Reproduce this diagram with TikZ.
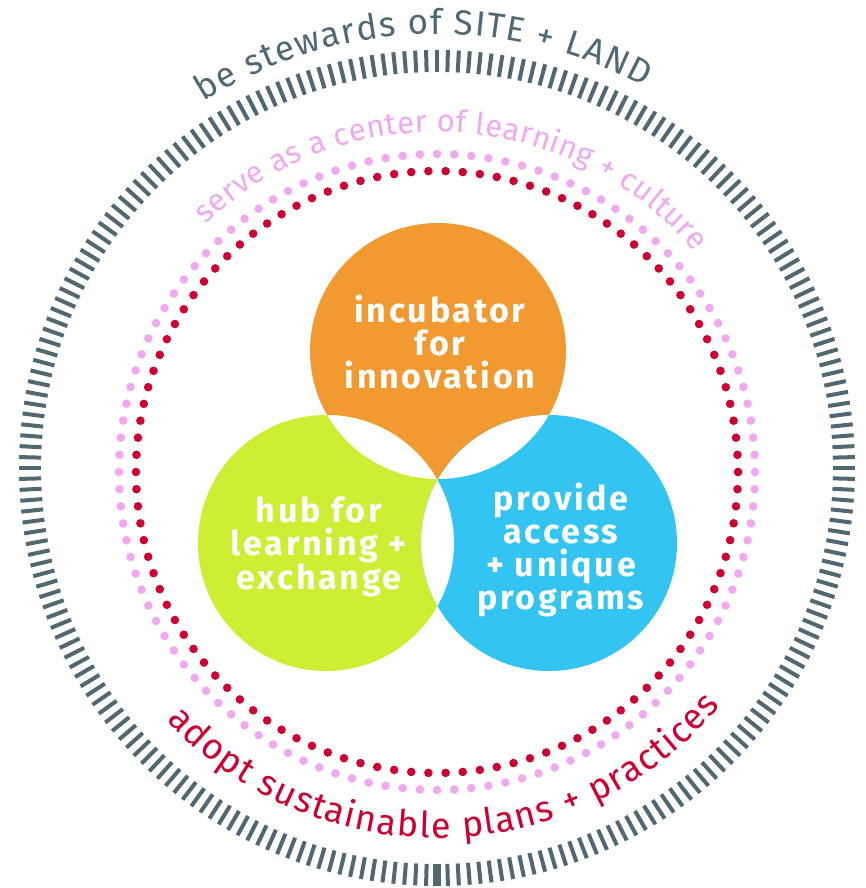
\documentclass[tikz,border=0pt]{standalone}
\usepackage{fontspec}
\setmainfont{Fira Sans}
\usetikzlibrary{decorations.text}
\definecolor{slate}{HTML}{516873}
\definecolor{lilac}{HTML}{F0A8F0}
\definecolor{crimson}{HTML}{CC0033}
\definecolor{incorange}{HTML}{F29A32}
\definecolor{hubgreen}{HTML}{CCEE33}
\definecolor{accblue}{HTML}{33C4F2}
\tikzset{
  venntext/.style={align=center, text=white, inner sep=0pt,
    font=\fontsize{34}{33}\selectfont\bfseries\addfontfeatures{LetterSpace=8}},
  ringtick/.style={slate, line width=4pt},
  lilacdot/.style={fill=lilac},
  crimsondot/.style={fill=crimson}
}
\begin{document}
\begin{tikzpicture}[x=1pt, y=1pt, declare function={vr=128;}]
\useasboundingbox (-437,-420) rectangle (428,468);
% outer ring of ticks
\foreach \a in {0,1.5,...,358.5}
  \draw[ringtick] (\a:396) -- (\a:418);
\draw[ringtick, line width=8pt] (270:396) -- (270:418);
% dotted rings
\begin{scope}[shift={(0,-4)}]
  \foreach \i in {1,...,116}
    \fill[lilacdot] ({360/116*\i}:318) circle[radius=4.3];
  \foreach \i in {1,...,110}
    \fill[crimsondot] ({360/110*\i}:301) circle[radius=4.3];
\end{scope}
% ring labels
\path[decorate, decoration={text along path, text align={fit to path},
    text={|\fontsize{35}{40}\selectfont\color{slate}|be stewards of SITE + LAND}}]
  (122.5:434) arc[start angle=122.5, end angle=61.5, radius=434];
\path[decorate, decoration={text along path, text align={fit to path},
    text={|\fontsize{31}{36}\selectfont\color{lilac}|serve as a center of learning + culture}}]
  (133.5:336) arc[start angle=133.5, end angle=40, radius=336];
\path[decorate, decoration={text along path, text align={fit to path},
    text={|\fontsize{36}{40}\selectfont\color{crimson}|adopt sustainable plans + practices}}]
  (223:370) arc[start angle=223, end angle=320, radius=370];
% three circles
\coordinate (inc) at (1,117);
\coordinate (hub) at (-111,-75);
\coordinate (acc) at (112,-75);
\fill[incorange] (inc) circle[radius=vr];
\fill[hubgreen] (hub) circle[radius=vr];
\fill[accblue] (acc) circle[radius=vr];
\begin{scope}
  \clip (inc) circle[radius=vr];
  \fill[white] (hub) circle[radius=vr];
  \fill[white] (acc) circle[radius=vr];
\end{scope}
\begin{scope}
  \clip (hub) circle[radius=vr];
  \fill[white] (acc) circle[radius=vr];
\end{scope}
\node[venntext] (inctext) at (3,126) {incubator\\for\\innovation};
\node[venntext] (hubtext) at (-118,-79) {hub for\\learning +\\exchange};
\node[venntext] (acctext) at (124,-82) {provide\\access\\+ unique\\programs};
\end{tikzpicture}
\end{document}
